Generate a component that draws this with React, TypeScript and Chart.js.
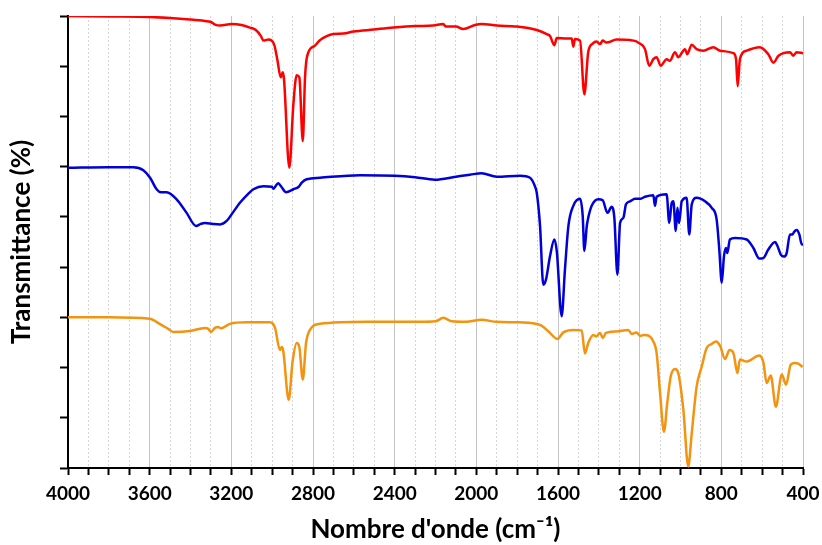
import React, { useEffect, useRef } from "react";
import { Chart, registerables } from "chart.js";

Chart.register(...registerables);

const redWn = [4000, 3800, 3600, 3500, 3402, 3330, 3300, 3280, 3255, 3198, 3150, 3109, 3080, 3055, 3043, 3019, 2991, 2975, 2958, 2948, 2942, 2916, 2896, 2880, 2867, 2850, 2839, 2828, 2790, 2766, 2733, 2700, 2651, 2602, 2504, 2406, 2300, 2211, 2162, 2150, 2100, 2064, 2007, 1974, 1900, 1802, 1704, 1655, 1639, 1618, 1606, 1557, 1533, 1525, 1517, 1492, 1471, 1452, 1430, 1411, 1394, 1381, 1362, 1313, 1247, 1220, 1207, 1174, 1153, 1133, 1117, 1097, 1068, 1052, 1027, 1011, 978, 967, 945, 921, 888, 839, 806, 741, 728, 720, 709, 676, 611, 570, 545, 520, 464, 448, 431, 400];
const redT = [9.0, 8.99, 8.98, 8.96, 8.93, 8.9, 8.88, 8.83, 8.81, 8.84, 8.82, 8.77, 8.72, 8.6, 8.51, 8.53, 8.44, 8.14, 7.78, 7.88, 7.74, 5.98, 7.25, 7.82, 7.78, 6.51, 7.78, 8.21, 8.41, 8.52, 8.6, 8.64, 8.65, 8.69, 8.73, 8.77, 8.8, 8.81, 8.84, 8.79, 8.79, 8.74, 8.82, 8.84, 8.81, 8.79, 8.72, 8.64, 8.6, 8.42, 8.56, 8.55, 8.55, 8.39, 8.54, 8.51, 7.44, 8.28, 8.45, 8.49, 8.44, 8.51, 8.47, 8.53, 8.52, 8.5, 8.47, 8.34, 8.01, 8.14, 8.18, 8.01, 8.14, 8.11, 8.28, 8.18, 8.34, 8.24, 8.43, 8.34, 8.31, 8.38, 8.31, 8.26, 8.14, 7.6, 8.14, 8.31, 8.38, 8.24, 8.07, 8.21, 8.28, 8.21, 8.28, 8.26];

const blueWn = [4000, 3800, 3680, 3631, 3598, 3566, 3545, 3517, 3468, 3419, 3373, 3350, 3329, 3290, 3255, 3223, 3190, 3158, 3120, 3092, 3043, 3002, 2994, 2982, 2970, 2955, 2932, 2896, 2870, 2855, 2831, 2766, 2570, 2400, 2300, 2203, 2100, 2031, 1974, 1900, 1786, 1737, 1713, 1704, 1688, 1672, 1659, 1639, 1618, 1606, 1582, 1566, 1549, 1525, 1492, 1479, 1471, 1459, 1452, 1435, 1402, 1381, 1358, 1337, 1324, 1309, 1296, 1280, 1267, 1247, 1223, 1198, 1174, 1133, 1125, 1117, 1068, 1055, 1043, 1035, 1023, 1015, 1007, 994, 970, 957, 945, 921, 880, 847, 823, 810, 798, 787, 777, 771, 758, 733, 676, 643, 614, 594, 570, 537, 526, 509, 493, 480, 464, 451, 444, 431, 418, 406, 400];
const blueT = [5.98, 5.99, 5.99, 5.93, 5.78, 5.55, 5.49, 5.49, 5.35, 5.08, 4.82, 4.86, 4.88, 4.86, 4.85, 4.92, 5.1, 5.28, 5.45, 5.55, 5.61, 5.6, 5.56, 5.62, 5.67, 5.6, 5.49, 5.55, 5.6, 5.68, 5.75, 5.78, 5.83, 5.82, 5.79, 5.74, 5.8, 5.84, 5.87, 5.8, 5.82, 5.78, 5.61, 5.48, 4.82, 3.65, 3.75, 4.22, 4.55, 4.32, 3.02, 3.95, 4.82, 5.22, 5.36, 5.02, 4.32, 4.82, 4.98, 5.22, 5.35, 5.33, 5.08, 5.2, 4.98, 3.85, 4.88, 4.98, 5.25, 5.31, 5.36, 5.36, 5.4, 5.43, 5.22, 5.4, 5.45, 4.88, 5.28, 5.31, 4.72, 5.18, 4.88, 5.31, 5.38, 4.65, 5.25, 5.38, 5.31, 5.18, 4.95, 4.35, 3.69, 4.22, 4.38, 4.28, 4.55, 4.58, 4.55, 4.38, 4.17, 4.18, 4.35, 4.5, 4.43, 4.25, 4.21, 4.28, 4.65, 4.65, 4.7, 4.74, 4.65, 4.45, 4.45];

const orangeWn = [4000, 3800, 3600, 3551, 3509, 3484, 3402, 3329, 3313, 3300, 3280, 3264, 3251, 3207, 3125, 3011, 2986, 2962, 2953, 2946, 2919, 2900, 2880, 2867, 2850, 2834, 2815, 2766, 2537, 2276, 2200, 2162, 2120, 2050, 1974, 1900, 1786, 1688, 1647, 1603, 1574, 1525, 1484, 1468, 1452, 1427, 1414, 1394, 1381, 1365, 1313, 1256, 1239, 1215, 1198, 1179, 1133, 1117, 1100, 1081, 1065, 1048, 1027, 1011, 986, 962, 945, 921, 896, 872, 847, 826, 806, 782, 760, 741, 721, 709, 676, 614, 594, 578, 558, 533, 504, 483, 460, 439, 423, 402];
const orangeT = [3.0, 3.0, 2.97, 2.87, 2.77, 2.71, 2.73, 2.79, 2.77, 2.71, 2.79, 2.81, 2.78, 2.87, 2.9, 2.9, 2.79, 2.35, 2.41, 2.34, 1.36, 2.12, 2.49, 2.41, 1.76, 2.49, 2.75, 2.87, 2.91, 2.91, 2.92, 2.99, 2.92, 2.91, 2.95, 2.91, 2.9, 2.85, 2.72, 2.57, 2.7, 2.75, 2.74, 2.28, 2.49, 2.65, 2.62, 2.69, 2.59, 2.69, 2.72, 2.75, 2.67, 2.7, 2.63, 2.65, 2.52, 2.29, 1.49, 0.72, 1.29, 1.82, 1.97, 1.89, 1.16, 0.03, 0.69, 1.62, 2.02, 2.39, 2.47, 2.52, 2.43, 2.17, 2.35, 2.29, 1.89, 2.16, 2.12, 2.24, 2.1, 1.69, 1.84, 1.22, 1.86, 1.66, 2.06, 2.09, 2.08, 2.01];

const xMin = 400;
const xMax = 4000;
const xStep = 100;
const xLabelStep = 400;
const yMin = 0;
const yMax = 9;

const xTitle = "Nombre d'onde (cm\u207B\u00B9)";
const yTitle = "Transmittance (%)";

function toPoints(wn: number[], t: number[]) {
  return wn.map((w, i) => ({ x: w, y: t[i] }));
}

const FONT = "Lato, 'Open Sans', sans-serif";

export default function App() {
  const ref = useRef<HTMLCanvasElement | null>(null);

  useEffect(() => {
    if (!ref.current) return;
    const isMajor = (ctx: any) =>
      ctx && ctx.tick && Math.round(ctx.tick.value) % xLabelStep === 0;
    const line = (wn: number[], t: number[], color: string) => ({
      data: toPoints(wn, t),
      borderColor: color,
      backgroundColor: color,
      borderWidth: 2.5,
      pointRadius: 0,
      cubicInterpolationMode: "monotone" as const,
      fill: false,
    });
    const chart = new Chart(ref.current, {
      type: "line",
      data: {
        datasets: [
          line(redWn, redT, "#FF0000"),
          line(blueWn, blueT, "#0000D8"),
          line(orangeWn, orangeT, "#F39411"),
        ],
      },
      options: {
        animation: false,
        responsive: true,
        maintainAspectRatio: false,
        layout: { padding: { top: 16, right: 19, bottom: 0, left: 0 } },
        plugins: { legend: { display: false }, tooltip: { enabled: false } },
        scales: {
          x: {
            type: "linear",
            reverse: true,
            min: xMin,
            max: xMax,
            afterFit: (s: any) => {
              s.height = 77;
              s.paddingRight = 0;
              s.paddingLeft = 0;
            },
            ticks: {
              stepSize: xStep,
              autoSkip: false,
              maxRotation: 0,
              minRotation: 0,
              padding: 7,
              color: "#000",
              font: { family: FONT, size: 19, weight: "bold" },
              callback: (v: any) =>
                Math.round(Number(v)) % xLabelStep === 0 ? String(v) : "",
            },
            grid: {
              display: true,
              drawOnChartArea: true,
              drawTicks: true,
              tickLength: 7,
              tickWidth: 2,
              tickColor: "#000",
              lineWidth: 1,
              color: (ctx: any) => (isMajor(ctx) ? "#c4c4c4" : "#d6d6d6"),
              borderDash: (ctx: any) => (isMajor(ctx) ? [] : [2, 2]),
            } as any,
            border: {
              display: true,
              color: "#000",
              width: 2,
              dash: (ctx: any) => (isMajor(ctx) ? [] : [2, 2]),
            } as any,
            title: {
              display: true,
              text: xTitle,
              color: "#000",
              font: { family: FONT, size: 26, weight: "bold" },
              padding: { top: 0, bottom: 0 },
            },
          },
          y: {
            type: "linear",
            min: yMin,
            max: yMax,
            afterFit: (s: any) => {
              s.width = 68;
            },
            ticks: {
              stepSize: 1,
              callback: () => "",
            },
            grid: {
              display: true,
              drawOnChartArea: false,
              drawTicks: true,
              tickLength: 8,
              tickWidth: 2,
              tickColor: "#000",
            },
            border: { display: true, color: "#000", width: 2 },
            title: {
              display: true,
              text: yTitle,
              color: "#000",
              font: { family: FONT, size: 26, weight: "bold" },
              padding: { top: 6, bottom: 0 },
            },
          },
        },
      },
    });
    return () => chart.destroy();
  }, []);

  return (
    <div
      style={{
        position: "fixed",
        left: 0,
        top: 0,
        width: 822,
        height: 545,
        background: "#fff",
      }}
    >
      <canvas ref={ref} />
    </div>
  );
}
